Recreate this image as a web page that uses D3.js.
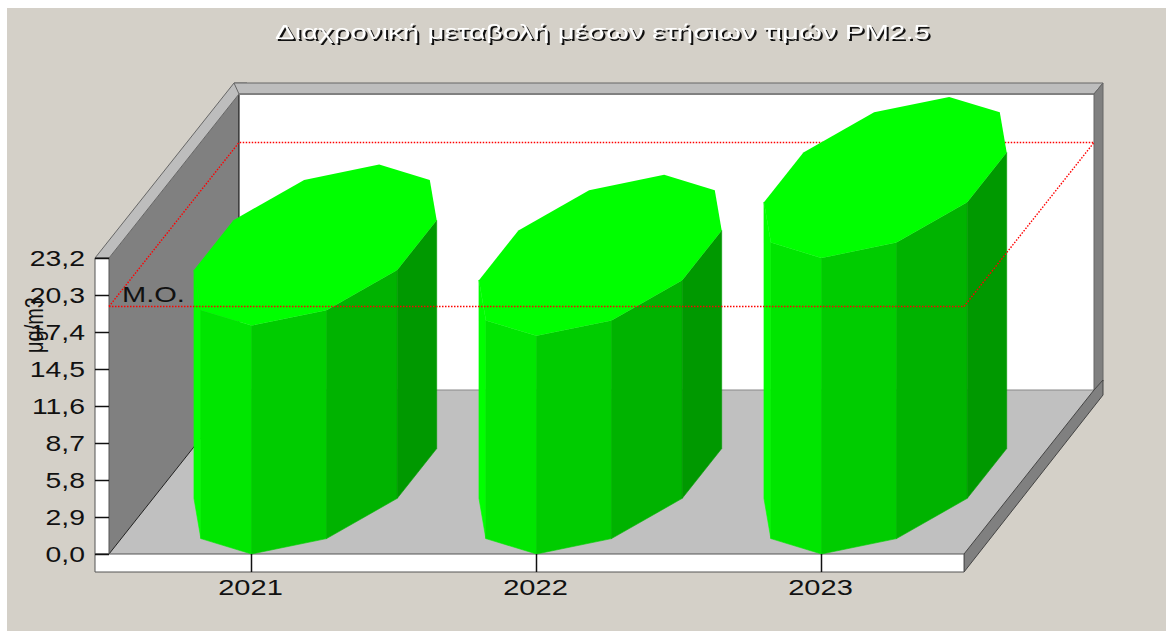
<!DOCTYPE html>
<html>
<head>
<meta charset="utf-8">
<script src="https://cdn.jsdelivr.net/npm/d3@7"></script>
<style>
  html, body { margin: 0; padding: 0; background: #fff; }
  svg { display: block; }
  text { font-family: "Liberation Sans", Arial, sans-serif; fill: #111; }
</style>
</head>
<body>
<div id="d3-container"></div>
<script>
// data
const years = ['2021', '2022', '2023'];
const values = [17.9, 17.1, 23.2];
const meanValue = 19.4;
const yTicks = [0, 2.9, 5.8, 8.7, 11.6, 14.5, 17.4, 20.3, 23.2];
const titleText = 'Διαχρονική μεταβολή μέσων ετήσιων τιμών PM2.5';

const width = 1166;
const height = 631;
const plot = { left: 109, right: 964, bottom: 554, top: 258 };
const depth = { x: 130, y: 164 };   // front-to-back offset of the 3D box
const rim = { x: 14, y: 18 };       // thickness of the box border
const sideColors = ['#00ff00', '#00e600', '#00cc00', '#00b300', '#009900'];

const svg = d3.select('#d3-container')
  .append('svg')
  .attr('width', width)
  .attr('height', height);

const x = d3.scaleBand().domain(years).range([plot.left, plot.right]);
const y = d3.scaleLinear().domain([0, 23.2]).range([plot.bottom, plot.top]);

// z runs from 0 (front of the box) to 1 (back)
const project = (px, py, z) => [px + z * depth.x, py - z * depth.y];
const path = d3.line();
const poly = (pts, fill, stroke) => svg.append('path')
  .attr('d', path(pts) + 'Z')
  .attr('fill', fill)
  .attr('stroke', stroke || 'none');

// background panel
svg.append('rect').attr('x', 7).attr('y', 8).attr('width', width - 7).attr('height', height - 8).attr('fill', '#d4d0c8');

const yTop = plot.top, yBot = plot.bottom;
const backTop = yTop - depth.y, backBot = yBot - depth.y;
const backL = plot.left + depth.x, backR = plot.right + depth.x;

// back wall, floor, left wall
poly([[backL, backTop], [backR, backTop], [backR, backBot], [backL, backBot]], '#fff');
poly([[plot.left, yBot], [plot.right, yBot], [backR, backBot], [backL, backBot]], '#c0c0c0');
poly([[plot.left, yBot], [backL, backBot], [backL, backTop], [plot.left, yTop]], '#808080');
svg.append('line').attr('x1', backL).attr('x2', backL).attr('y1', backTop).attr('y2', backBot).attr('stroke', '#000');
svg.append('line').attr('x1', plot.left).attr('x2', backL).attr('y1', yBot).attr('y2', backBot).attr('stroke', '#222');
svg.append('line').attr('x1', backL).attr('x2', backR).attr('y1', backBot).attr('y2', backBot).attr('stroke', '#888');

// box border strips
poly([[plot.left - rim.x, yTop], [backL - 5, backTop - 11], [backL + 8, backTop - 11], [backL, backTop], [plot.left, yTop]], '#bdbdbd', '#666');
poly([[backL, backTop], [backL - 5, backTop - 11], [backR + 9, backTop - 11], [backR, backTop]], '#bdbdbd', '#666');
svg.append('line').attr('x1', backL).attr('x2', backR).attr('y1', backTop).attr('y2', backTop).attr('stroke', '#808080').attr('stroke-width', 2);
poly([[backR, backTop], [backR + 9, backTop - 11], [backR + 9, backBot - 9], [backR, backBot + 2]], '#808080', '#666');
poly([[plot.right, yBot], [backR, backBot], [backR + 9, backBot - 10], [backR + 9, backBot + 5], [plot.right, yBot + rim.y]], '#808080', '#444');
poly([[plot.left - rim.x, yTop], [plot.left, yTop], [plot.left, yBot], [plot.left - rim.x, yBot]], '#fff', '#555');
poly([[plot.left - rim.x, yBot], [plot.right, yBot], [plot.right, yBot + rim.y], [plot.left - rim.x, yBot + rim.y]], '#fff', '#555');

// dotted mean line, back part goes behind the cylinders
const dotted = (pts) => svg.append('path')
  .attr('d', path(pts))
  .attr('fill', 'none')
  .attr('stroke', '#ff0000')
  .attr('stroke-width', 1.4)
  .attr('stroke-dasharray', '1.5 1.5');

const meanFL = project(plot.left, y(meanValue), 0);
const meanFR = project(plot.right, y(meanValue), 0);
const meanBL = project(plot.left, y(meanValue), 1);
const meanBR = project(plot.right, y(meanValue), 1);
dotted([meanFL, meanBL, meanBR]);

// cylinders are ten sided prisms standing on the floor
const radius = x.bandwidth() * 0.375;
const corner = (year, v, k) => {
  const a = k * Math.PI / 5;
  const cx = x(year) + x.bandwidth() / 2;
  return project(cx + radius * Math.sin(a), y(v), (1 - Math.cos(a)) / 2 * 0.982);
};
const sides = [[8, 9], [9, 0], [0, 1], [1, 2], [2, 3]];

const cylinders = svg.selectAll('g.cylinder')
  .data(years.map((year, i) => ({ year, value: values[i] })))
  .enter()
  .append('g')
  .attr('class', 'cylinder');

cylinders.selectAll('path.side')
  .data(d => sides.map((s, i) => ({ year: d.year, value: d.value, s, i })))
  .enter()
  .append('path')
  .attr('class', 'side')
  .attr('fill', d => sideColors[d.i])
  .attr('stroke', d => sideColors[d.i])
  .attr('stroke-width', 0.6)
  .attr('d', d => path([
    corner(d.year, 0, d.s[0]),
    corner(d.year, 0, d.s[1]),
    corner(d.year, d.value, d.s[1]),
    corner(d.year, d.value, d.s[0])
  ]) + 'Z');

cylinders.append('path')
  .attr('class', 'cap')
  .attr('fill', '#00ff00')
  .attr('d', d => path(d3.range(10).map(k => corner(d.year, d.value, k))) + 'Z');

// front and right part of the mean line run over the cylinders
dotted([meanFL, meanFR, meanBR]);

svg.append('text')
  .attr('transform', `translate(122,${y(meanValue) - 4}) scale(1.35,1)`)
  .style('font-size', '21.5px')
  .text('M.O.');

// axes
const yAxis = svg.append('g')
  .attr('transform', `translate(${plot.left},0)`)
  .call(d3.axisLeft(y).tickValues(yTicks).tickSize(rim.x).tickFormat(d => d3.format('.1f')(d).replace('.', ',')));
yAxis.select('.domain').remove();
yAxis.selectAll('line').attr('stroke', '#111').attr('stroke-width', 1.5);
yAxis.selectAll('text')
  .attr('x', null)
  .attr('dy', null)
  .attr('y', 7)
  .attr('text-anchor', 'end')
  .attr('fill', null)
  .attr('transform', 'translate(-24,0) scale(1.32,1)')
  .style('font-size', '21.5px');

const xAxis = svg.append('g')
  .attr('transform', `translate(0,${plot.bottom})`)
  .call(d3.axisBottom(x).tickSize(rim.y));
xAxis.select('.domain').remove();
xAxis.selectAll('line').attr('stroke', '#111').attr('stroke-width', 1.5);
xAxis.selectAll('text')
  .attr('y', null)
  .attr('dy', null)
  .attr('fill', null)
  .attr('transform', 'translate(-1,41) scale(1.35,1)')
  .style('font-size', '21.5px');

svg.append('text')
  .attr('transform', 'translate(43,325) rotate(-90) scale(1,1.3)')
  .attr('text-anchor', 'middle')
  .style('font-size', '20px')
  .text('μg/m3');

// title
svg.append('text')
  .attr('x', 275)
  .attr('y', 39)
  .attr('textLength', 655)
  .attr('lengthAdjust', 'spacingAndGlyphs')
  .style('font-size', '21px')
  .style('fill', '#fff')
  .style('filter', 'drop-shadow(2px 2px 0.5px #111)')
  .text(titleText);
</script>
</body>
</html>
